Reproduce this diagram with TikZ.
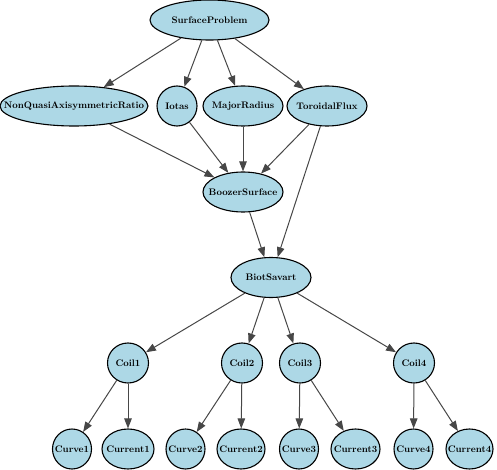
\documentclass[tikz,border=0pt]{standalone}
\usepackage{xcolor}
\usepackage{tikz}
\usetikzlibrary{shapes.geometric, arrows.meta, positioning, calc}
\definecolor{nodeblue}{HTML}{ADD8E6}

\begin{document}
\begin{tikzpicture}[
        x=1pt, y=-1pt,
        base/.style={
            ellipse, draw, minimum height=40pt, inner sep=0pt,
            font=\fontsize{9.5}{10}\selectfont\bfseries, fill=nodeblue, line width=1.1pt,
            execute at begin node={\hbox to 0pt\bgroup\hss},
            execute at end node={\hss\egroup}
        },
        mid/.style={base, minimum width=80pt},
        coil/.style={base, minimum width=41pt},
        leaf/.style={base, minimum width=39pt},
        arrow/.style={line width=1pt, draw=black!72, -{Triangle[length=10pt, width=7.5pt]}}
    ]
        \useasboundingbox (0,0) rectangle (497,470);

        % Nós
        \node[base, minimum width=119pt] (prob) at (209.5,20) {SurfaceProblem};

        \node[base, minimum width=148pt] (nqar) at (74,106) {NonQuasiAxisymmetricRatio};
        \node[base, minimum width=40pt] (iotas) at (177,106) {Iotas};
        \node[mid] (major) at (243,106) {MajorRadius};
        \node[mid] (tflux) at (327,106) {ToroidalFlux};

        \node[mid] (boozer) at (243,192) {BoozerSurface};
        \node[mid] (biot) at (271,277.5) {BiotSavart};

        \node[coil] (coil1) at (128,363) {Coil1};
        \node[coil] (coil2) at (242,363) {Coil2};
        \node[coil] (coil3) at (300,363) {Coil3};
        \node[coil] (coil4) at (414,363) {Coil4};

        \node[leaf] (curve1) at (72,449) {Curve1};
        \node[base, minimum width=52pt] (cur1) at (128,449) {Current1};
        \node[leaf] (curve2) at (185.5,449) {Curve2};
        \node[base, minimum width=48pt] (cur2) at (241,449) {Current2};
        \node[leaf] (curve3) at (299,449) {Curve3};
        \node[base, minimum width=49pt] (cur3) at (355.5,449) {Current3};
        \node[leaf] (curve4) at (413.5,449) {Curve4};
        \node[base, minimum width=47pt] (cur4) at (469.5,449) {Current4};

        % Setas
        \draw[arrow] (prob) -- (nqar);
        \draw[arrow] (prob) -- (iotas);
        \draw[arrow] (prob) -- (major);
        \draw[arrow] (prob) -- (tflux);

        \draw[arrow] (nqar) -- (boozer);
        \draw[arrow] (iotas) -- (boozer);
        \draw[arrow] (major) -- (boozer);
        \draw[arrow] (tflux) -- (boozer);

        \draw[arrow] (boozer) -- (biot);
        \draw[arrow] (tflux) -- (biot);

        \draw[arrow] (biot) -- (coil1);
        \draw[arrow] (biot) -- (coil2);
        \draw[arrow] (biot) -- (coil3);
        \draw[arrow] (biot) -- (coil4);

        \draw[arrow] (coil1) -- (curve1);
        \draw[arrow] (coil1) -- (cur1);
        \draw[arrow] (coil2) -- (curve2);
        \draw[arrow] (coil2) -- (cur2);
        \draw[arrow] (coil3) -- (curve3);
        \draw[arrow] (coil3) -- (cur3);
        \draw[arrow] (coil4) -- (curve4);
        \draw[arrow] (coil4) -- (cur4);

\end{tikzpicture}
\end{document}
